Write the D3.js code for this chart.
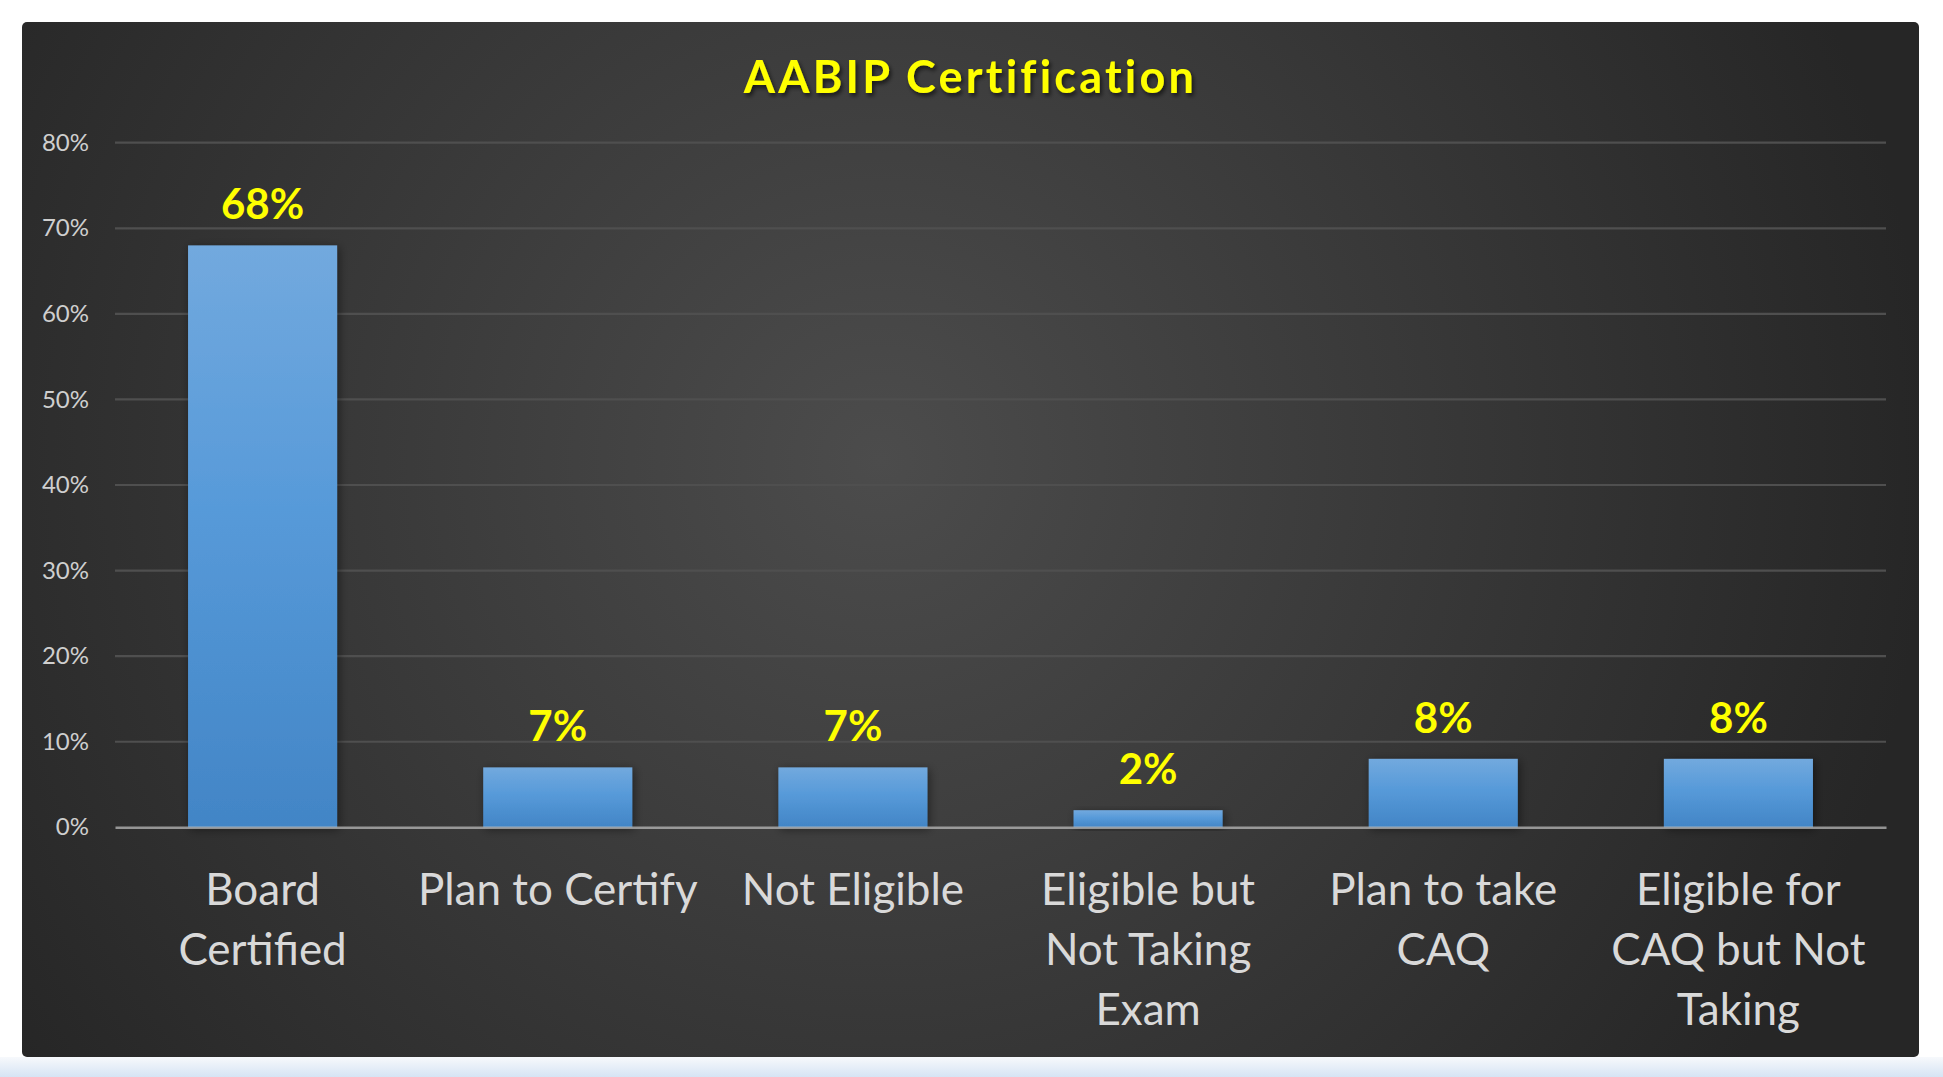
<!DOCTYPE html>
<html>
<head>
<meta charset="utf-8">
<script src="https://cdn.jsdelivr.net/npm/d3@7"></script>
<style>
  html, body { margin: 0; padding: 0; background: #ffffff; }
  svg { display: block; }
  text { font-family: Lato, "Open Sans", sans-serif; }
</style>
</head>
<body>
<div id="chart"></div>
<script>
// chart values
var categories = ["Board Certified", "Plan to Certify", "Not Eligible", "Eligible but Not Taking Exam", "Plan to take CAQ", "Eligible for CAQ but Not Taking"];
var labelLines = [["Board", "Certified"], ["Plan to Certify"], ["Not Eligible"], ["Eligible but", "Not Taking", "Exam"], ["Plan to take", "CAQ"], ["Eligible for", "CAQ but Not", "Taking"]];
var values = [0.68, 0.07, 0.07, 0.02, 0.08, 0.08];
var yTicks = [0, 0.1, 0.2, 0.3, 0.4, 0.5, 0.6, 0.7, 0.8];
var title = "AABIP Certification";

const W = 1943, H = 1077;
const panel = {x: 22, y: 22, w: 1897, h: 1035};
const plot = {left: 115, right: 1886, top: 142.7, bottom: 827.3};

const svg = d3.select("#chart").append("svg")
    .attr("width", W)
    .attr("height", H);

const defs = svg.append("defs");

// panel background
const bg = defs.append("radialGradient")
    .attr("id", "bg")
    .attr("gradientUnits", "userSpaceOnUse")
    .attr("cx", 880).attr("cy", 460).attr("r", 1050);
bg.append("stop").attr("offset", "0%").attr("stop-color", "#4c4c4c");
bg.append("stop").attr("offset", "100%").attr("stop-color", "#262626");

const strip = defs.append("linearGradient")
    .attr("id", "strip").attr("x1", 0).attr("y1", 0).attr("x2", 0).attr("y2", 1);
strip.append("stop").attr("offset", "0%").attr("stop-color", "#f7f9fc");
strip.append("stop").attr("offset", "100%").attr("stop-color", "#d6e4f4");

const barGrad = defs.append("linearGradient")
    .attr("id", "barGrad").attr("x1", 0).attr("y1", 0).attr("x2", 0).attr("y2", 1);
barGrad.append("stop").attr("offset", "0%").attr("stop-color", "#72a9de");
barGrad.append("stop").attr("offset", "45%").attr("stop-color", "#579ad9");
barGrad.append("stop").attr("offset", "100%").attr("stop-color", "#4285c6");

const shadow = defs.append("filter").attr("id", "shadow")
    .attr("x", "-20%").attr("y", "-20%").attr("width", "140%").attr("height", "140%");
shadow.append("feDropShadow")
    .attr("dx", 2).attr("dy", 2).attr("stdDeviation", 5)
    .attr("flood-color", "#000").attr("flood-opacity", 0.45);

const tshadow = defs.append("filter").attr("id", "tshadow")
    .attr("x", "-10%").attr("y", "-30%").attr("width", "120%").attr("height", "160%");
tshadow.append("feDropShadow")
    .attr("dx", 2).attr("dy", 3).attr("stdDeviation", 2)
    .attr("flood-color", "#000").attr("flood-opacity", 0.6);

svg.append("rect")
    .attr("x", 0).attr("y", panel.y + panel.h)
    .attr("width", W).attr("height", H - panel.y - panel.h)
    .attr("fill", "url(#strip)");

svg.append("rect")
    .attr("x", panel.x).attr("y", panel.y)
    .attr("width", panel.w).attr("height", panel.h)
    .attr("rx", 5)
    .attr("fill", "url(#bg)");

// scales
const x = d3.scaleBand()
    .domain(categories)
    .range([plot.left, plot.right])
    .paddingInner(0.495)
    .paddingOuter(0.2475);

const y = d3.scaleLinear()
    .domain([0, 0.8])
    .range([plot.bottom, plot.top]);

// gridlines + y labels
const yAxis = svg.append("g")
    .attr("transform", `translate(${plot.left},0)`)
    .call(d3.axisLeft(y)
        .tickValues(yTicks)
        .tickFormat(d3.format(".0%"))
        .tickSize(0)
        .tickPadding(26));
yAxis.select(".domain").remove();
yAxis.selectAll("text")
    .attr("fill", "#cfcfcf")
    .attr("font-size", "24px")
    .attr("font-family", "Lato, sans-serif");

svg.append("g")
    .selectAll("line")
    .data(yTicks.filter(d => d > 0))
    .enter()
    .append("line")
    .attr("x1", plot.left).attr("x2", plot.right)
    .attr("y1", d => y(d)).attr("y2", d => y(d))
    .attr("stroke", "#4f4f4f")
    .attr("stroke-width", 2.2);

// bars
svg.append("g")
    .selectAll("rect")
    .data(values)
    .enter()
    .append("rect")
    .attr("x", (d, i) => x(categories[i]))
    .attr("width", x.bandwidth())
    .attr("y", d => y(d))
    .attr("height", d => y(0) - y(d))
    .attr("fill", "url(#barGrad)")
    .attr("filter", "url(#shadow)");

// baseline axis
const xAxis = svg.append("g")
    .attr("transform", `translate(0,${y(0)})`)
    .call(d3.axisBottom(x).tickSize(0).tickFormat(""));
xAxis.select(".domain")
    .attr("stroke", "rgba(190,190,190,0.72)")
    .attr("stroke-width", 2.6);

// category labels
svg.append("g")
    .selectAll("text")
    .data(categories)
    .enter()
    .append("text")
    .attr("text-anchor", "middle")
    .attr("fill", "#d9d9d9")
    .attr("font-size", "44px")
    .attr("transform", d => `translate(${x(d) + x.bandwidth() / 2},${y(0) + 78})`)
    .selectAll("tspan")
    .data((d, i) => labelLines[i])
    .enter()
    .append("tspan")
    .attr("x", 0)
    .attr("y", (d, i) => i * 60)
    .text(d => d);

// value labels
svg.append("g")
    .selectAll("text")
    .data(values)
    .enter()
    .append("text")
    .attr("x", (d, i) => x(categories[i]) + x.bandwidth() / 2)
    .attr("y", d => y(d) - 26)
    .attr("text-anchor", "middle")
    .attr("fill", "#ffff00")
    .attr("font-weight", "bold")
    .attr("font-size", "42px")
    .text(d => d3.format(".0%")(d));

// title
svg.append("text")
    .attr("x", panel.x + panel.w / 2)
    .attr("y", 93)
    .attr("text-anchor", "middle")
    .attr("fill", "#ffff00")
    .attr("font-weight", "bold")
    .attr("font-size", "45px")
    .attr("letter-spacing", "3.2px")
    .attr("filter", "url(#tshadow)")
    .text(title);
</script>
</body>
</html>
